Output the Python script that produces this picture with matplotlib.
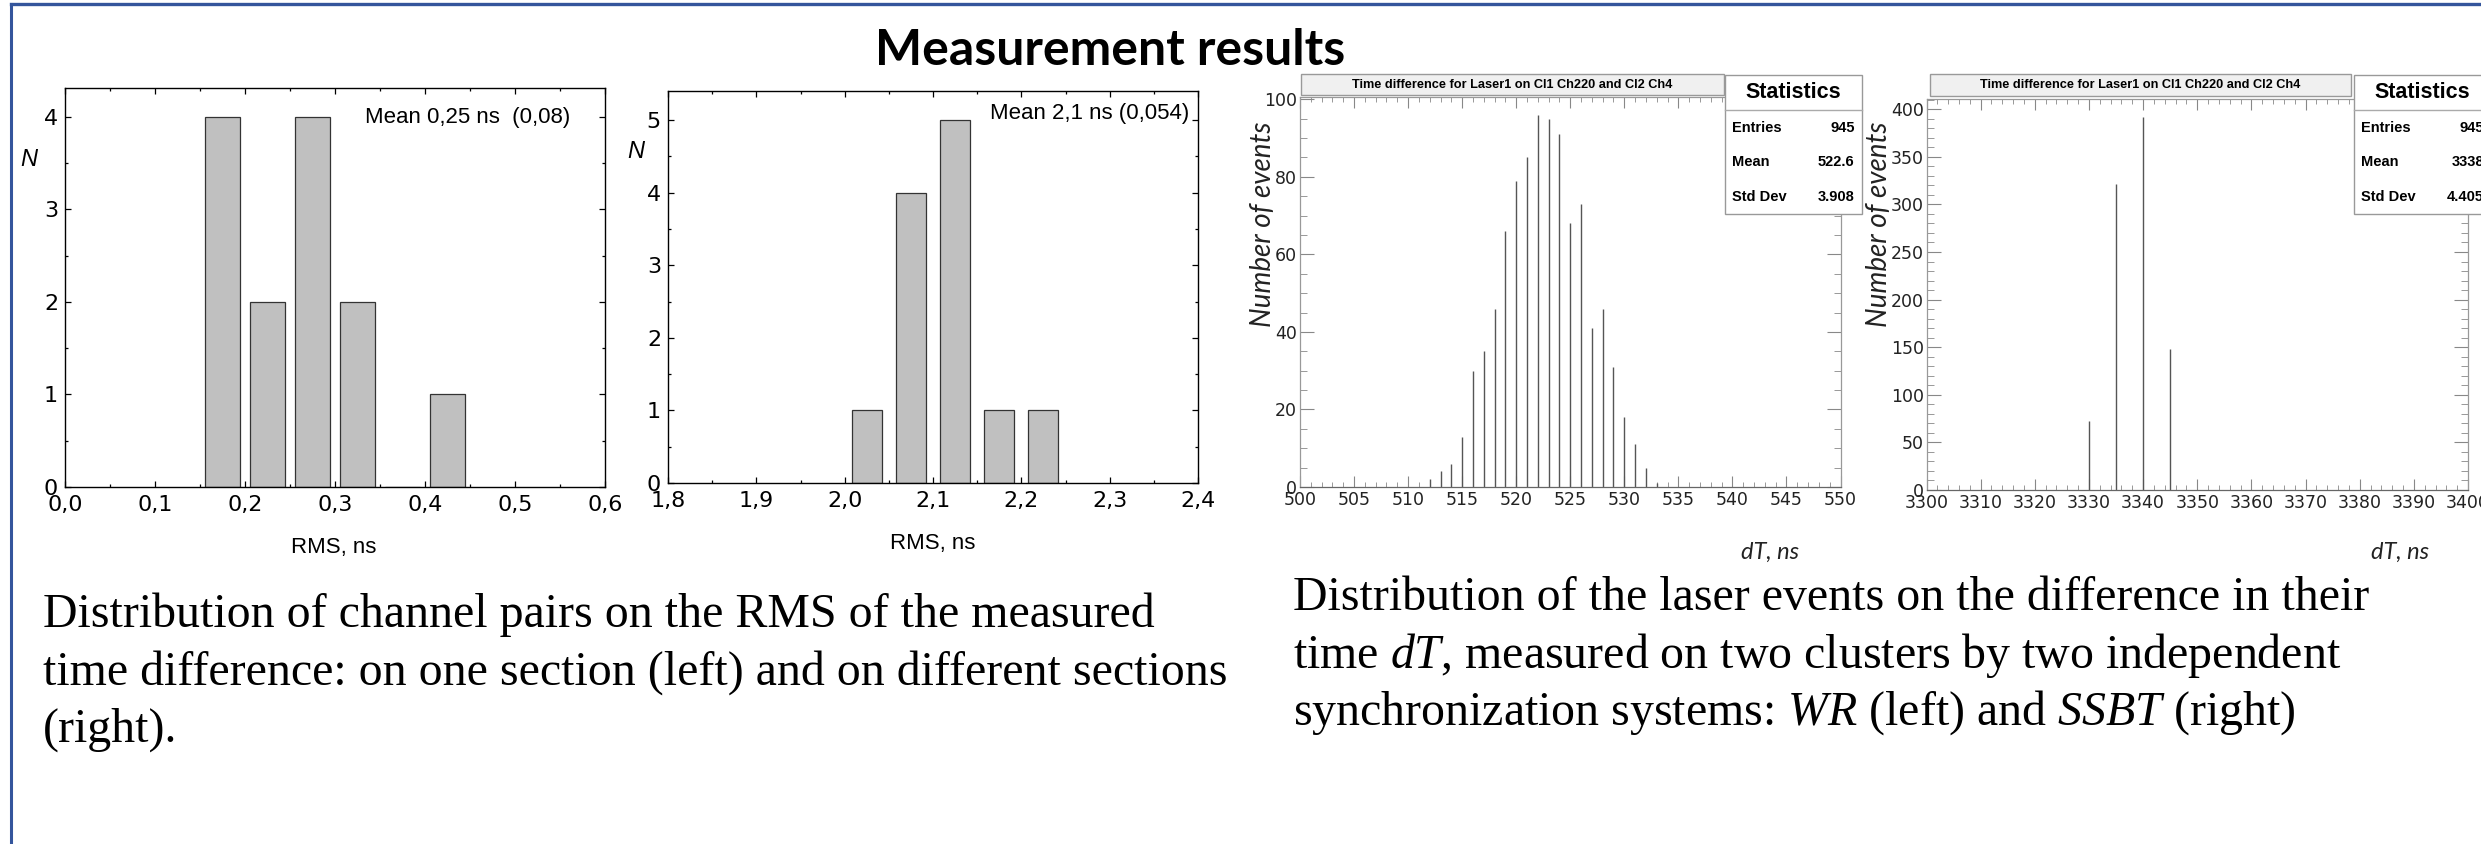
import matplotlib
matplotlib.use('Agg')
import matplotlib.pyplot as plt
from matplotlib.patches import Rectangle
from matplotlib.lines import Line2D
from matplotlib.ticker import MultipleLocator, FuncFormatter

W, H = 2481, 844

# RMS of time difference, one section (left) and different sections (right)
rms_one_centers = [0.175, 0.225, 0.275, 0.325, 0.375, 0.425]
rms_one_counts = [4, 2, 4, 2, 0, 1]
rms_diff_centers = [2.025, 2.075, 2.125, 2.175, 2.225]
rms_diff_counts = [1, 4, 5, 1, 1]

# laser events dT, WR system
wr_dt = [512, 513, 514, 515, 516, 517, 518, 519, 520, 521, 522,
         523, 524, 525, 526, 527, 528, 529, 530, 531, 532, 533]
wr_counts = [2, 4, 6, 13, 30, 35, 46, 66, 79, 85, 96,
             95, 91, 68, 73, 41, 46, 31, 18, 11, 5, 1]
wr_stats = [('Entries', '945'), ('Mean', '522.6'), ('Std Dev', '3.908')]

# laser events dT, SSBT system
ssbt_dt = [3330, 3335, 3340, 3345]
ssbt_counts = [73, 321, 392, 148]
ssbt_stats = [('Entries', '945'), ('Mean', '3338'), ('Std Dev', '4.405')]

hist_title = 'Time difference for Laser1 on Cl1 Ch220 and Cl2 Ch4'

plt.rcParams['mathtext.fontset'] = 'custom'
plt.rcParams['mathtext.rm'] = 'Liberation Serif'
plt.rcParams['mathtext.it'] = 'Liberation Serif:italic'

SANS = 'Liberation Sans'
SERIF = 'Liberation Serif'

fig = plt.figure(figsize=(W / 100, H / 100), dpi=100)


def box(x0, y0, x1, y1):
    # pixel box (top-left origin) -> figure fractions
    return [x0 / W, 1 - y1 / H, (x1 - x0) / W, (y1 - y0) / H]


def put(x, y, s, **kw):
    return fig.text(x / W, 1 - y / H, s, **kw)


def comma(v, pos):
    return '{:.1f}'.format(v).replace('.', ',')


def rms_axes(rect, centers, counts, xlim, ymax, width):
    ax = fig.add_axes(rect)
    ax.bar(centers, counts, width=width, color='#c0c0c0', edgecolor='#333333', linewidth=0.9)
    ax.set_xlim(*xlim)
    ax.set_ylim(0, ymax)
    ax.xaxis.set_major_locator(MultipleLocator(0.1))
    ax.xaxis.set_minor_locator(MultipleLocator(0.05))
    ax.yaxis.set_major_locator(MultipleLocator(1))
    ax.yaxis.set_minor_locator(MultipleLocator(0.5))
    ax.xaxis.set_major_formatter(FuncFormatter(comma))
    ax.tick_params(which='both', direction='in', top=True, right=True, labelsize=16)
    ax.tick_params(which='major', length=4.5, width=0.9)
    ax.tick_params(which='minor', length=2.5, width=0.9)
    ax.tick_params(axis='x', pad=6)
    ax.tick_params(axis='y', pad=5)
    for sp in ax.spines.values():
        sp.set_linewidth(1.0)
    return ax


def root_axes(rect, xs, counts, xlim, ymax, xmaj, xmin, ymaj, ymin):
    ax = fig.add_axes(rect)
    ax.vlines(xs, 0, counts, color='#555555', linewidth=1.0)
    ax.set_xlim(*xlim)
    ax.set_ylim(0, ymax)
    ax.xaxis.set_major_locator(MultipleLocator(xmaj))
    ax.xaxis.set_minor_locator(MultipleLocator(xmin))
    ax.yaxis.set_major_locator(MultipleLocator(ymaj))
    ax.yaxis.set_minor_locator(MultipleLocator(ymin))
    ax.tick_params(which='both', direction='in', top=True, right=True,
                   color='#888888', labelsize=12.5, labelcolor='#222222')
    ax.tick_params(axis='x', which='major', length=8, pad=3)
    ax.tick_params(axis='x', which='minor', length=3.6)
    ax.tick_params(axis='y', which='major', length=10, pad=2)
    ax.tick_params(axis='y', which='minor', length=5)
    for sp in ax.spines.values():
        sp.set_color('#999999')
        sp.set_linewidth(0.9)
    ax.spines['bottom'].set_color('#666666')
    return ax


def title_box(x0, x1, y0, y1):
    fig.add_artist(Rectangle((x0 / W, 1 - y1 / H), (x1 - x0) / W, (y1 - y0) / H,
                             transform=fig.transFigure, facecolor='#f0f0f0',
                             edgecolor='#999999', linewidth=1.0))
    put((x0 + x1) / 2, (y0 + y1) / 2, hist_title, ha='center', va='center',
        fontsize=9.2, fontweight='bold', family=SANS)


def stats_box(x0, rows):
    w, y0, y1 = 137, 75, 214
    fig.add_artist(Rectangle((x0 / W, 1 - y1 / H), w / W, (y1 - y0) / H,
                             transform=fig.transFigure, facecolor='white',
                             edgecolor='#999999', linewidth=1.0))
    fig.add_artist(Line2D([x0 / W, (x0 + w) / W], [1 - 110 / H] * 2,
                          color='#aaaaaa', linewidth=1.0))
    put(x0 + w / 2, 93, 'Statistics', ha='center', va='center',
        fontsize=15.5, fontweight='bold', family=SANS)
    for (label, val), yy in zip(rows, [128, 162, 197]):
        put(x0 + 7, yy, label, ha='left', va='center', fontsize=10.5,
            fontweight='bold', family=SANS)
        put(x0 + w - 7, yy, val, ha='right', va='center', fontsize=10.5,
            fontweight='bold', family=SANS)


# --- RMS histograms ---
ax1 = rms_axes(box(65, 88, 605, 487), rms_one_centers, rms_one_counts,
               (0.0, 0.6), 4.31, 0.039)
ax2 = rms_axes(box(668, 91, 1198, 483), rms_diff_centers, rms_diff_counts,
               (1.8, 2.4), 5.40, 0.034)

put(570, 117, 'Mean 0,25 ns  (0,08)', ha='right', va='center', fontsize=16, family=SANS)
put(1189, 113, 'Mean 2,1 ns (0,054)', ha='right', va='center', fontsize=16, family=SANS)
put(29, 160, 'N', ha='center', va='center', fontsize=17, style='italic', family=SANS)
put(636, 152, 'N', ha='center', va='center', fontsize=17, style='italic', family=SANS)
put(334, 548, 'RMS, ns', ha='center', va='center', fontsize=16, family=SANS)
put(933, 543, 'RMS, ns', ha='center', va='center', fontsize=16, family=SANS)

# --- dT histograms ---
ax3 = root_axes(box(1300, 97, 1840.5, 487), wr_dt, wr_counts, (500, 550), 100.6,
                5, 1, 20, 5)
ax4 = root_axes(box(1926.5, 99, 2468, 490), ssbt_dt, ssbt_counts, (3300, 3400), 410.7,
                10, 2, 50, 10)

title_box(1300.6, 1724, 74, 95)
title_box(1930, 2351, 74, 96)
stats_box(1724.7, wr_stats)
stats_box(2354, ssbt_stats)

for xc in [1263, 1879]:
    put(xc, 224, 'Number of events', ha='center', va='center', rotation=90,
        fontsize=20, style='italic', family='Lato', color='#222222')
put(1770, 552, 'dT, ns', ha='center', va='center', fontsize=17, style='italic',
    family='Lato', color='#222222')
put(2400, 552, 'dT, ns', ha='center', va='center', fontsize=17, style='italic',
    family='Lato', color='#222222')

# --- slide title, captions and frame ---
put(1110, 65, 'Measurement results', ha='center', va='baseline', fontsize=36,
    fontweight='bold', family='Lato')

left_caption = ['Distribution of channel pairs on the RMS of the measured',
                'time difference: on one section (left) and on different sections',
                '(right).']
for line, yb in zip(left_caption, [627, 684.5, 742]):
    put(43, yb, line, ha='left', va='baseline', fontsize=34.5, family=SERIF)

right_caption = ['Distribution of the laser events on the difference in their',
                 'time $dT$, measured on two clusters by two independent',
                 'synchronization systems: $WR$ (left) and $SSBT$ (right)']
for line, yb in zip(right_caption, [610, 668, 725]):
    put(1293, yb, line, ha='left', va='baseline', fontsize=34.5, family=SERIF)

frame_color = '#34559c'
fig.add_artist(Line2D([11 / W, 11 / W], [0, 1 - 4 / H], color=frame_color, linewidth=2.2))
fig.add_artist(Line2D([11 / W, 1], [1 - 4 / H, 1 - 4 / H], color=frame_color, linewidth=2.4))

fig.savefig('out.png', dpi=100)
plt.close(fig)
